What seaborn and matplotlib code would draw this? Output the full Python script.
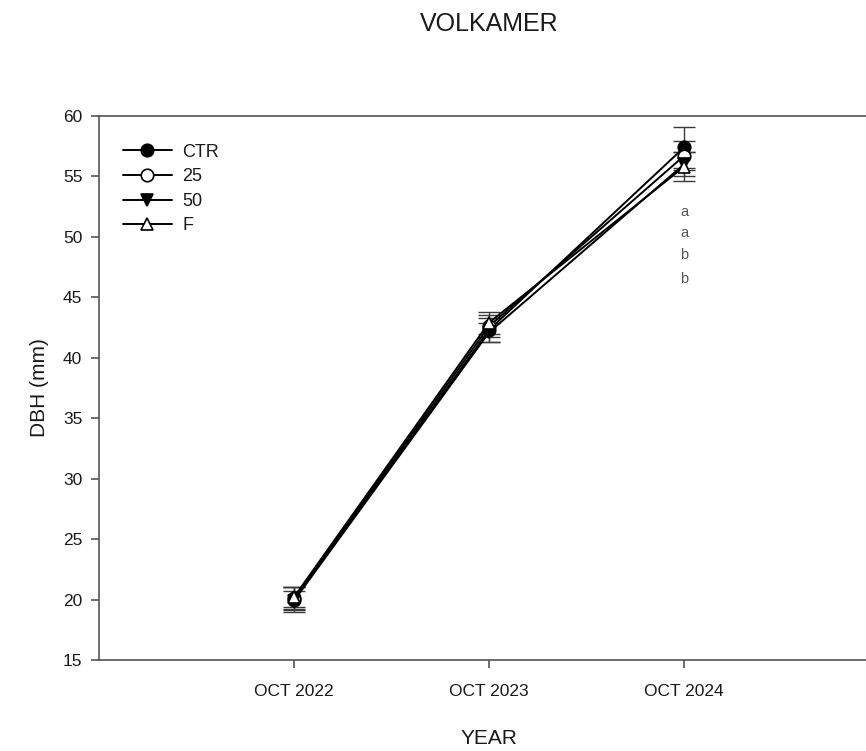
import matplotlib
matplotlib.use("Agg")
import matplotlib.pyplot as plt
import seaborn as sns
import pandas as pd

# Mean trunk diameter (DBH, mm) and standard error per treatment
years = ["OCT 2022", "OCT 2023", "OCT 2024"]
ctr_mean = [20.0, 42.3, 57.4]
ctr_err = [1.0, 1.0, 1.7]
t25_mean = [20.1, 42.6, 56.7]
t25_err = [0.9, 0.9, 1.2]
t50_mean = [19.9, 42.1, 56.0]
t50_err = [0.8, 0.8, 1.0]
f_mean = [20.2, 42.9, 55.8]
f_err = [0.8, 0.9, 1.2]
treatments = ["CTR", "25", "50", "F"]
letters = ["a", "a", "b", "b"]
letter_y = [52.1, 50.3, 48.5, 46.5]

sns.set_theme(style="white")
plt.rcParams["font.family"] = ["Liberation Sans", "DejaVu Sans"]
plt.rcParams["text.color"] = "#1a1a1a"
plt.rcParams["axes.labelcolor"] = "#1a1a1a"
plt.rcParams["xtick.color"] = "#1a1a1a"
plt.rcParams["ytick.color"] = "#1a1a1a"

means = [ctr_mean, t25_mean, t50_mean, f_mean]
errs = [ctr_err, t25_err, t50_err, f_err]
rows = []
for name, m, e in zip(treatments, means, errs):
    for i, (yv, ev) in enumerate(zip(m, e)):
        rows.append({"treatment": name, "pos": i + 1, "dbh": yv, "se": ev})
df = pd.DataFrame(rows)

styles = {
    "CTR": dict(marker="o", markerfacecolor="black"),
    "25": dict(marker="o", markerfacecolor="white"),
    "50": dict(marker="v", markerfacecolor="black"),
    "F": dict(marker="^", markerfacecolor="white"),
}

fig = plt.figure(figsize=(8.66, 7.51), dpi=100)
ax = fig.add_axes([0.1143, 0.1212, 0.9007, 0.7243])

for name in treatments:
    sub = df[df["treatment"] == name]
    ax.errorbar(sub["pos"], sub["dbh"], yerr=sub["se"], fmt="none",
                ecolor="#3a3a3a", elinewidth=1.0, capsize=8, capthick=1.0,
                zorder=2)
for name in treatments:
    sub = df[df["treatment"] == name]
    sns.lineplot(data=sub, x="pos", y="dbh", ax=ax, color="black",
                 linewidth=1.4, markersize=9, markeredgecolor="black",
                 markeredgewidth=1.2, label=name, zorder=3, **styles[name])

for txt, yv in zip(letters, letter_y):
    ax.text(3, yv, txt, ha="center", va="center", fontsize=10.5,
            color="#555555")

ax.set_xlim(0, 4)
ax.set_ylim(15, 60)
ax.set_xticks([1, 2, 3])
ax.set_xticklabels(years)
ax.set_yticks(range(15, 61, 5))
ax.set_xlabel("YEAR", fontsize=15, labelpad=22)
ax.set_ylabel("DBH (mm)", fontsize=15, labelpad=10)
fig.text(0.565, 0.968, "VOLKAMER", ha="center", va="center", fontsize=18)

for side in ["left", "bottom", "top", "right"]:
    ax.spines[side].set_color("#555555")
    ax.spines[side].set_linewidth(1.2)
ax.tick_params(axis="both", which="major", direction="out", length=6,
               width=1.2, color="#555555", labelsize=12.5, bottom=True,
               left=True, pad=6)
ax.tick_params(axis="x", pad=11)

leg = ax.legend(loc="upper left", frameon=False, fontsize=13, handlelength=2.7,
                handletextpad=0.6, labelspacing=0.42,
                bbox_to_anchor=(0.01, 0.979))

fig.savefig("out.png", dpi=100)
